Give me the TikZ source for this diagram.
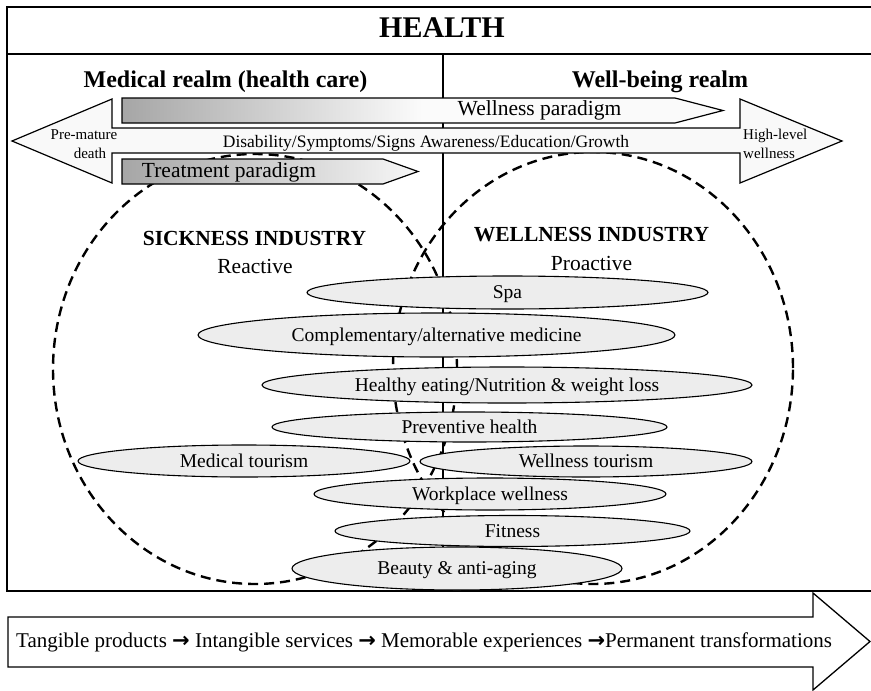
\documentclass[tikz,border=0pt]{standalone}
\usepackage{fontspec}
\setmainfont{Liberation Serif}
\newfontfamily\arrowfont{DejaVu Sans}
\usetikzlibrary{shapes.geometric}
\newcommand{\progarrow}{{\arrowfont\bfseries →}}
\begin{document}
\begin{tikzpicture}[x=1pt,y=-1pt,
  frame/.style={line width=1.6pt},
  title/.style={font=\fontsize{30}{34}\selectfont\bfseries, anchor=base},
  realm/.style={font=\fontsize{24}{28}\selectfont\bfseries, anchor=base},
  industry/.style={font=\fontsize{21.5}{25}\selectfont\bfseries, anchor=base},
  mode/.style={font=\fontsize{21.5}{25}\selectfont, anchor=base},
  paradigm/.style={font=\fontsize{21.5}{25}\selectfont, anchor=base},
  pole/.style={font=\fontsize{15}{18}\selectfont, anchor=base, inner sep=0pt},
  scaletext/.style={font=\fontsize{17.5}{20}\selectfont, anchor=base},
  sector/.style={ellipse, draw, line width=1.1pt, fill=gray!14, inner sep=0pt,
    text height=12.9pt, text depth=0pt, font=\fontsize{19.5}{22}\selectfont},
  zone/.style={draw, line width=2.4pt, dash pattern=on 10pt off 6pt},
  bigarrow/.style={draw, line width=1.2pt, fill=gray!5},
  bar/.style={draw, line width=1.2pt},
]
\useasboundingbox (0,0) rectangle (871,691);
\clip (0,0) rectangle (871,691);

% outer frame with the title band
\draw[frame] (885,7) -- (7,7) -- (7,591) -- (885,591);
\draw[frame] (7,54) -- (885,54);
\node[title] (health) at (442,37) {HEALTH};

% divide between the two realms
\draw[line width=1.6pt] (443,54) -- (443,591);

% industry zones
\draw[zone] (255,369) ellipse [x radius=202pt, y radius=215pt];
\draw[zone] (593,368) ellipse [x radius=200pt, y radius=216pt];

% realm headings
\node[realm] (medrealm) at (225.5,87) {Medical realm (health care)};
\node[realm] (wellrealm) at (660,87) {Well-being realm};

% continuum double arrow
\draw[bigarrow] (12,141) -- (112,99) -- (112,128) -- (740,128) -- (740,99)
  -- (842,141) -- (740,183) -- (740,153) -- (112,153) -- (112,183) -- cycle;
\node[scaletext] (scale) at (426,147) {Disability/Symptoms/Signs Awareness/Education/Growth};
\node[pole] (pm1) at (84,139) {Pre-mature};
\node[pole] (pm2) at (90,158) {death};
\node[pole, anchor=base west] (hl1) at (743,139) {High-level};
\node[pole, anchor=base west] (hl2) at (743,158) {wellness};

% paradigm arrows
\draw[bar, left color=gray!70, right color=gray!4, middle color=gray!3]
  (122,98) -- (675,98) -- (723,110.5) -- (675,123) -- (122,123) -- cycle;
\node[paradigm] (wellpar) at (539.5,115) {Wellness paradigm};
\draw[bar, left color=gray!70, right color=gray!6]
  (122,159) -- (383,159) -- (418,171.5) -- (383,184) -- (122,184) -- cycle;
\node[paradigm] (treatpar) at (229,177) {Treatment paradigm};

% industry labels
\node[industry] (sick) at (254.5,245) {SICKNESS INDUSTRY};
\node[mode] (reactive) at (255,273) {Reactive};
\node[industry] (wellind) at (591.5,241) {WELLNESS INDUSTRY};
\node[mode] (proactive) at (591.5,270) {Proactive};

% sectors
\node[sector, minimum width=401pt, minimum height=33pt] (spa) at (507.5,292.5) {Spa};
\node[sector, minimum width=477pt, minimum height=44pt] (cam) at (436.5,335) {Complementary/alternative medicine};
\node[sector, minimum width=490pt, minimum height=36pt] (nutrition) at (507,385) {Healthy eating/Nutrition \& weight loss};
\node[sector, minimum width=395pt, minimum height=30pt] (prevent) at (469.5,427) {Preventive health};
\node[sector, minimum width=332pt, minimum height=32pt] (medtour) at (244,461) {Medical tourism};
\node[sector, minimum width=332pt, minimum height=31pt] (welltour) at (586,461.5) {Wellness tourism};
\node[sector, minimum width=352pt, minimum height=32pt] (work) at (490,494) {Workplace wellness};
\node[sector, minimum width=355pt, minimum height=31pt] (fit) at (512.5,531) {Fitness};
\node[sector, minimum width=330pt, minimum height=43pt] (beauty) at (457,568.5) {Beauty \& anti-aging};

% economic progression arrow
\draw[line width=1.3pt, fill=white] (8,617) -- (813,617) -- (813,593) -- (870,641.5)
  -- (813,690) -- (813,667) -- (8,667) -- cycle;
\node[anchor=base west, inner sep=0pt, font=\fontsize{21}{24}\selectfont] (progress) at (16,647)
  {Tangible products \progarrow{} Intangible services \progarrow{} Memorable experiences \progarrow Permanent transformations};
\end{tikzpicture}
\end{document}
